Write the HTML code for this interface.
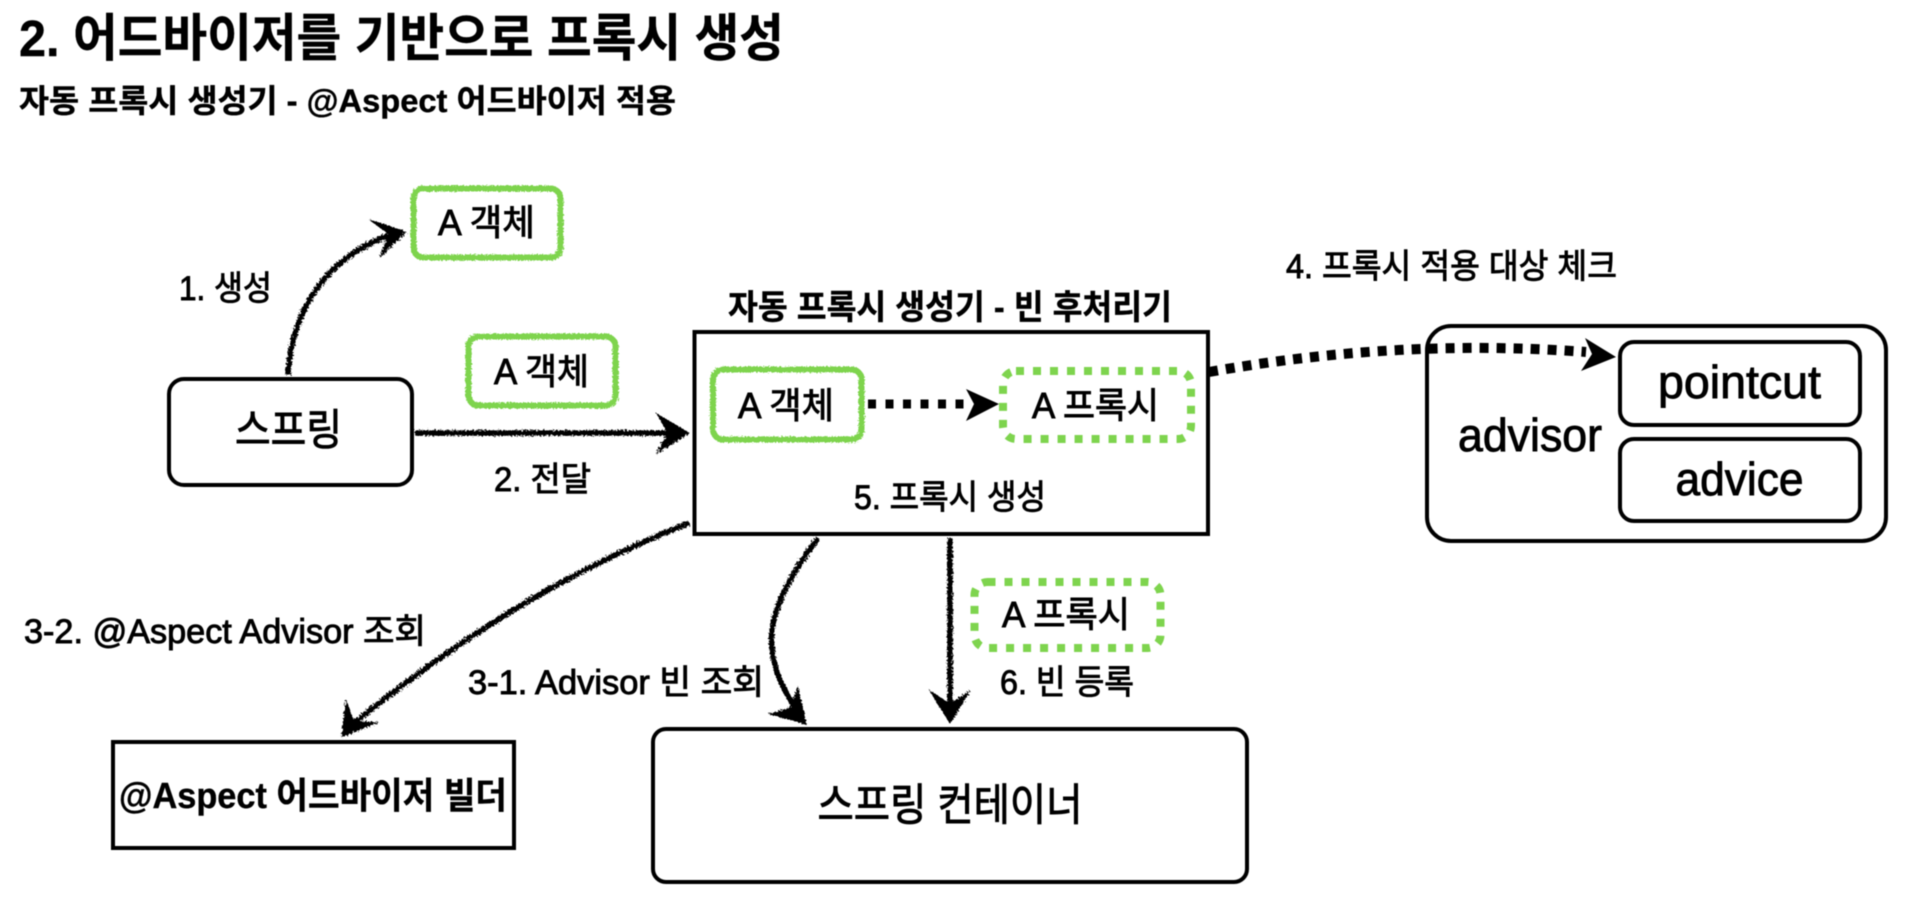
<!DOCTYPE html>
<html lang="ko">
<head>
<meta charset="utf-8">
<title>2. 어드바이저를 기반으로 프록시 생성</title>
<style>
html,body{margin:0;padding:0;background:#fff;width:1924px;height:904px;overflow:hidden}
svg{display:block;filter:blur(.4px)}
text{font-family:"Liberation Sans","Noto Sans CJK KR",sans-serif;fill:#000}
.l{stroke:#000;stroke-width:.9}
.b{font-weight:700;stroke:#000;stroke-width:.4}
</style>
</head>
<body>
<svg xmlns="http://www.w3.org/2000/svg" width="1924" height="904" viewBox="0 0 1924 904">
<defs>
<filter id="rough" filterUnits="userSpaceOnUse" x="0" y="0" width="1924" height="904">
<feTurbulence type="fractalNoise" baseFrequency="0.55" numOctaves="2" seed="3" result="n"/>
<feDisplacementMap in="SourceGraphic" in2="n" scale="5"/>
</filter>
<filter id="roughg" filterUnits="userSpaceOnUse" x="0" y="0" width="1924" height="904">
<feTurbulence type="fractalNoise" baseFrequency="0.6" numOctaves="2" seed="8" result="n"/>
<feDisplacementMap in="SourceGraphic" in2="n" scale="4"/>
</filter>
</defs>
<rect width="1924" height="904" fill="#fff"/>

<text class="b" x="19" y="56" font-size="51" textLength="765" lengthAdjust="spacingAndGlyphs">2. 어드바이저를 기반으로 프록시 생성</text>
<text class="b" x="19" y="112" font-size="32" textLength="657" lengthAdjust="spacingAndGlyphs">자동 프록시 생성기 - @Aspect 어드바이저 적용</text>

<!-- black boxes -->
<g fill="#fff" stroke="#000" stroke-width="4">
<rect x="169" y="379" width="243" height="106" rx="15"/>
<rect x="694.5" y="332" width="513.5" height="202"/>
<rect x="113" y="742" width="401" height="106"/>
<rect x="653" y="729" width="594" height="153" rx="13"/>
<rect x="1427" y="326" width="459" height="215" rx="24"/>
<rect x="1620" y="342" width="240" height="83" rx="14"/>
<rect x="1620" y="439" width="240" height="82" rx="14"/>
</g>

<!-- green sketch boxes -->
<g filter="url(#roughg)" fill="none" stroke="#7ed44e" stroke-width="6">
<rect x="413.5" y="188.5" width="147" height="69" rx="10"/>
<rect x="468.5" y="336.5" width="147" height="69" rx="10"/>
<rect x="713" y="369.5" width="148.5" height="70" rx="10"/>
</g>

<!-- green dotted boxes -->
<g fill="none" stroke="#7ed44e" stroke-width="8" stroke-dasharray="8 9">
<rect x="1003" y="371" width="188" height="68" rx="13"/>
<rect x="974.5" y="582" width="186" height="66" rx="13"/>
</g>

<!-- sketch arrows -->
<g filter="url(#rough)">
<g fill="none" stroke="#000" stroke-width="5.5">
<path d="M288 375 C292 310 325 258 392 234"/>
<path d="M415 433 L680 433"/>
<path d="M689 523 C590 562 480 620 348 728"/>
<path d="M818 538 C765 610 755 650 800 715"/>
<path d="M950 538 L950 712"/>
</g>
<g fill="#000" stroke="#000" stroke-width="1">
<path d="M370 220 L406 232 L380 257 L389 234 Z"/>
<path d="M657 414 L689 433 L657 453 L668 433 Z"/>
<path d="M346 700 L342 737 L378 722 L354 722 Z"/>
<path d="M798 688 L806 724 L770 714 L790 708 Z"/>
<path d="M930 691 L950 723 L970 691 L950 704 Z"/>
</g>
</g>

<!-- dotted arrows -->
<g fill="none" stroke="#000">
<path stroke-width="9" d="M868 404 L968 404" stroke-dasharray="8 9.5"/>
<path stroke-width="10" d="M1209 372 Q1400 338 1586 352" stroke-dasharray="9 8"/>
</g>
<g fill="#000">
<path d="M966 389 L999 404 L966 421 L974 404 Z"/>
<path d="M1585 338 L1616 357 L1581 371 L1592 354 Z"/>
</g>

<!-- labels -->
<g font-size="36">
<text class="l" x="438" y="235" textLength="97" lengthAdjust="spacingAndGlyphs">A 객체</text>
<text class="l" x="494" y="384" textLength="95" lengthAdjust="spacingAndGlyphs">A 객체</text>
<text class="l" x="738" y="418" textLength="96" lengthAdjust="spacingAndGlyphs">A 객체</text>
<text class="l" x="1032" y="418" textLength="127" lengthAdjust="spacingAndGlyphs">A 프록시</text>
<text class="l" x="1002" y="627" textLength="128" lengthAdjust="spacingAndGlyphs">A 프록시</text>
</g>
<g font-size="34">
<text class="l" x="179" y="300" textLength="93" lengthAdjust="spacingAndGlyphs">1. 생성</text>
<text class="l" x="494" y="491" textLength="97" lengthAdjust="spacingAndGlyphs">2. 전달</text>
<text class="l" x="854" y="509" textLength="192" lengthAdjust="spacingAndGlyphs">5. 프록시 생성</text>
<text class="l" x="1286" y="278" textLength="331" lengthAdjust="spacingAndGlyphs">4. 프록시 적용 대상 체크</text>
<text class="l" x="24" y="643" textLength="402" lengthAdjust="spacingAndGlyphs">3-2. @Aspect Advisor 조회</text>
<text class="l" x="468" y="694" textLength="296" lengthAdjust="spacingAndGlyphs">3-1. Advisor 빈 조회</text>
<text class="l" x="1000" y="694" textLength="134" lengthAdjust="spacingAndGlyphs">6. 빈 등록</text>
<text class="b" x="728" y="319" textLength="444" lengthAdjust="spacingAndGlyphs">자동 프록시 생성기 - 빈 후처리기</text>
</g>
<text class="b" x="119" y="808" font-size="36" textLength="388" lengthAdjust="spacingAndGlyphs">@Aspect 어드바이저 빌더</text>
<text class="l" x="235" y="445" font-size="43" textLength="107" lengthAdjust="spacingAndGlyphs">스프링</text>
<text class="l" x="817.5" y="820" font-size="44" textLength="265" lengthAdjust="spacingAndGlyphs">스프링 컨테이너</text>
<g font-size="46">
<text class="l" x="1458" y="451" textLength="144" lengthAdjust="spacingAndGlyphs">advisor</text>
<text class="l" x="1658" y="398" textLength="163" lengthAdjust="spacingAndGlyphs">pointcut</text>
<text class="l" x="1675.5" y="495" textLength="128" lengthAdjust="spacingAndGlyphs">advice</text>
</g>
</svg>
</body>
</html>
